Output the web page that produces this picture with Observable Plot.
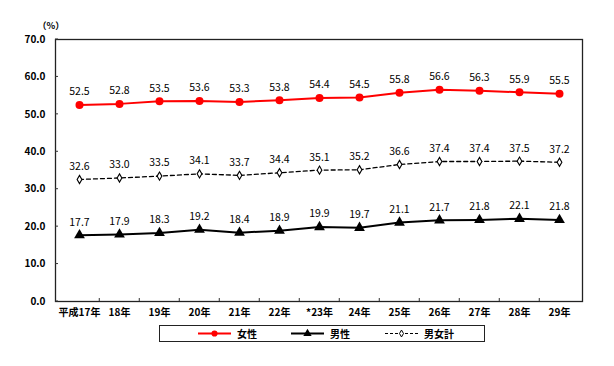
<!DOCTYPE html>
<html><head><meta charset="utf-8">
<script src="https://cdn.jsdelivr.net/npm/d3@7"></script>
<script src="https://cdn.jsdelivr.net/npm/@observablehq/plot@0.6"></script>
<style>
body{margin:0;background:#fff;font-family:"Noto Sans CJK JP",sans-serif;}
#legend{position:relative;margin-left:159px;width:324px;height:15px;border:1px solid #222;display:flex;align-items:center;font-size:10px;font-weight:bold;}
#legend .item{position:absolute;top:0;height:15px;display:flex;align-items:center;}
#legend svg{display:block}
</style>
</head><body>
<div id="chart"></div>
<div id="legend"></div>
<script>
const years = ["平成17年","18年","19年","20年","21年","22年","*23年","24年","25年","26年","27年","28年","29年"];
const female = [52.5,52.8,53.5,53.6,53.3,53.8,54.4,54.5,55.8,56.6,56.3,55.9,55.5];
const male = [17.7,17.9,18.3,19.2,18.4,18.9,19.9,19.7,21.1,21.7,21.8,22.1,21.8];
const total = [32.6,33.0,33.5,34.1,33.7,34.4,35.1,35.2,36.6,37.4,37.4,37.5,37.2];
const yTicks = [0,10,20,30,40,50,60,70];

const mk = arr => years.map((y,i)=>({year:y, value:arr[i]}));
const F = mk(female), M = mk(male), T = mk(total);
const W = 614, ML = 55, MR = 32;
const step = (W-ML-MR)/years.length;

const tickMarks = (index, scales, values, dims) => {
  const g = d3.create("svg:g").attr("stroke","#333").attr("stroke-width",1);
  for (const t of yTicks) {
    const y = scales.y(t);
    g.append("line").attr("x1",dims.marginLeft).attr("x2",dims.marginLeft+3).attr("y1",y).attr("y2",y);
  }
  for (let i=0;i<years.length-1;i++){
    const x = scales.x(years[i]) + step/2;
    const y0 = dims.height - dims.marginBottom;
    g.append("line").attr("x1",x).attr("x2",x).attr("y1",y0).attr("y2",y0-3);
  }
  return g.node();
};

const chart = Plot.plot({
  width: W, height: 325,
  marginLeft: ML, marginRight: MR, marginTop: 39, marginBottom: 24,
  style: {fontFamily: '"Noto Sans CJK JP", sans-serif', fontSize: "10px", fontWeight: "bold", color:"#000", background:"#fff"},
  x: {type: "point", domain: years, padding: 0.5, tickSize: 0, tickPadding: 7, label: null},
  y: {domain: [0,70], ticks: yTicks, tickFormat: d => d.toFixed(1), tickSize: 0, tickPadding: 10, label: null},
  marks: [
    Plot.frame({stroke: "#222", strokeWidth: 1.3}),
    tickMarks,
    Plot.text(["（%）"], {frameAnchor: "top-left", dx: -18, dy: -17, fontSize: 9, fontWeight: "bold"}),
    Plot.line(T, {x: "year", y: "value", stroke: "#000", strokeWidth: 1.3, strokeDasharray: "4,3"}),
    Plot.dot(T, {x: "year", y: "value", symbol: "diamond", r: 2.5, fill: "#fff", stroke: "#000", strokeWidth: 1.1}),
    Plot.line(M, {x: "year", y: "value", stroke: "#000", strokeWidth: 2}),
    Plot.dot(M, {x: "year", y: "value", symbol: "triangle", r: 4, fill: "#000", stroke: "none"}),
    Plot.line(F, {x: "year", y: "value", stroke: "#f00", strokeWidth: 2}),
    Plot.dot(F, {x: "year", y: "value", r: 4, fill: "#f00", stroke: "none"}),
    Plot.text(F, {x: "year", y: "value", text: d => d.value.toFixed(1), dy: -13, fontSize: 10.5, fontWeight: "normal", fill: "#000"}),
    Plot.text(M, {x: "year", y: "value", text: d => d.value.toFixed(1), dy: -13, fontSize: 10.5, fontWeight: "normal", fill: "#000"}),
    Plot.text(T, {x: "year", y: "value", text: d => d.value.toFixed(1), dy: -13, fontSize: 10.5, fontWeight: "normal", fill: "#000"})
  ]
});
document.getElementById("chart").appendChild(chart);

// legend
const legendItems = [
  {label:"女性", x:38, stroke:"#f00", dash:null, sym:"circle"},
  {label:"男性", x:131, stroke:"#000", dash:null, sym:"triangle"},
  {label:"男女計", x:225, stroke:"#000", dash:"3,2", sym:"diamond"}
];
const leg = d3.select("#legend");
for (const it of legendItems) {
  const item = leg.append("div").attr("class","item").style("left", it.x+"px");
  const s = item.append("svg").attr("width",36).attr("height",15);
  s.append("line").attr("x1",0).attr("x2",33).attr("y1",7.5).attr("y2",7.5)
    .attr("stroke",it.stroke).attr("stroke-width", it.dash?1.2:2).attr("stroke-dasharray", it.dash);
  const sym = {circle:d3.symbolCircle, triangle:d3.symbolTriangle, diamond:d3.symbolDiamond}[it.sym];
  const size = it.sym==="diamond"?14:30;
  s.append("path").attr("d", d3.symbol(sym, size)()).attr("transform","translate(16.5,7.5)")
    .attr("fill", it.sym==="diamond"?"#fff":it.stroke).attr("stroke", it.sym==="diamond"?"#000":"none").attr("stroke-width",1);
  item.append("span").text(it.label).style("margin-left","3px");
}
</script>
</body></html>
